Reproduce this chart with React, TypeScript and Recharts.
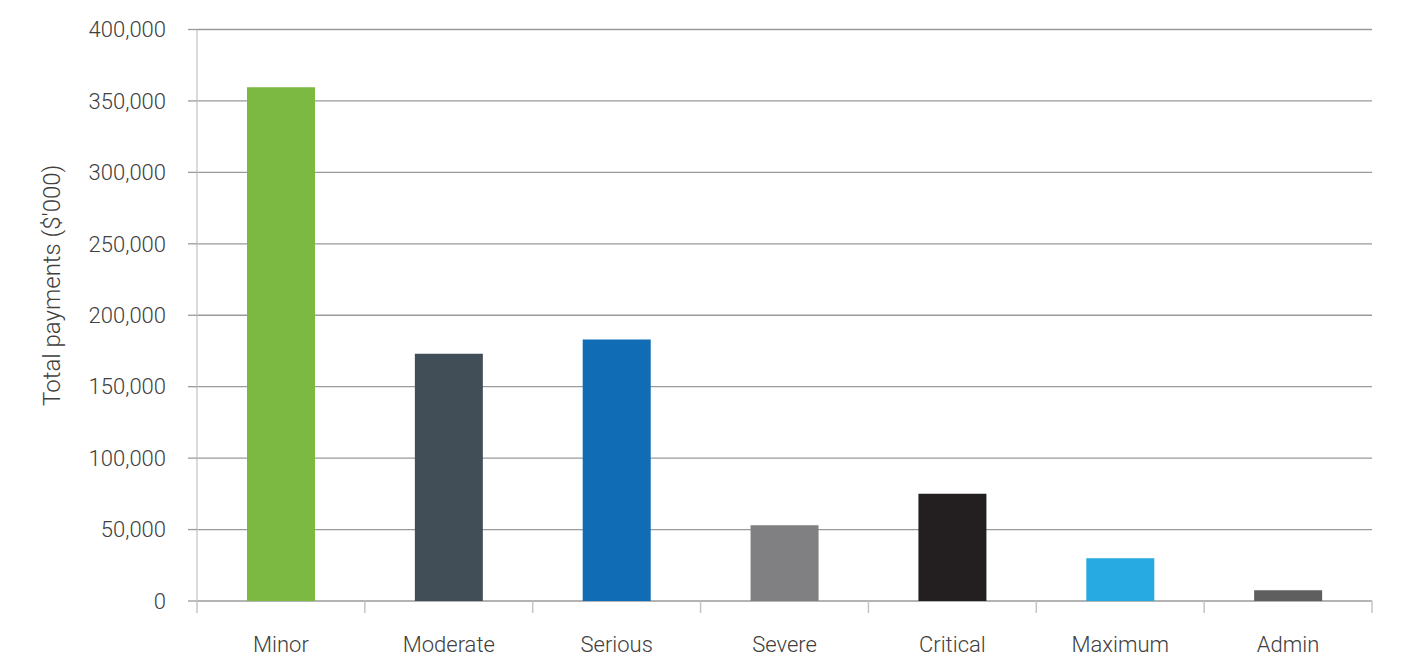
import { BarChart, Bar, XAxis, YAxis, CartesianGrid, Cell } from 'recharts'

const categories = ['Minor', 'Moderate', 'Serious', 'Severe', 'Critical', 'Maximum', 'Admin']
const payments = [359500, 173000, 183000, 53000, 75000, 30000, 7500]
const barColors = ['#7cb942', '#414e58', '#0f6cb5', '#808083', '#231f20', '#27aae1', '#5f5f5f']
const yTicks = [0, 50000, 100000, 150000, 200000, 250000, 300000, 350000, 400000]

const data = categories.map((name, i) => ({ name, value: payments[i] }))

const font = { fontFamily: 'Roboto, sans-serif', fontWeight: 300, fontSize: 22, fill: '#404040' }
const LABEL_GAP = 35

// category label plus the small separator ticks between categories
function CategoryTick(props: any) {
  const { x, y, payload, width, visibleTicksCount, index } = props
  const band = (width || 1175) / (visibleTicksCount || categories.length)
  const top = y - LABEL_GAP
  const tick = (tx: number) => (
    <line x1={tx} x2={tx} y1={top} y2={top + 12} stroke="#c4c4c4" strokeWidth={1.5} />
  )
  return (
    <g>
      {tick(x - band / 2)}
      {index === visibleTicksCount - 1 && tick(x + band / 2)}
      <text x={x} y={y} dy="0.71em" textAnchor="middle" {...font}>{payload.value}</text>
    </g>
  )
}

export default function App() {
  return (
    <div style={{ position: 'absolute', left: 0, top: 0, background: '#fff' }}>
      <BarChart width={1401} height={659} data={data}
        margin={{ top: 29.5, right: 29, bottom: 0, left: 0 }}>
        <CartesianGrid horizontal vertical={false} stroke="#9a9a9a" strokeWidth={1.3} />
        <XAxis dataKey="name" height={58} axisLine={false} tickLine={false}
          tickSize={0} tickMargin={LABEL_GAP} tick={<CategoryTick />} interval={0} />
        <YAxis width={197} domain={[0, 400000]} ticks={yTicks} interval={0}
          axisLine={{ stroke: '#cccccc', strokeWidth: 1.5 }}
          tickLine={{ stroke: '#9a9a9a', strokeWidth: 1.3 }} tickSize={9} tickMargin={22}
          tick={font} tickFormatter={(v: number) => v.toLocaleString('en-US')}
          label={{ value: "Total payments ($'000)", angle: -90, position: 'center',
            dx: -47, dy: -30, style: { ...font, fontSize: 24 } }} />
        <Bar dataKey="value" barSize={68} isAnimationActive={false}>
          {data.map((d, i) => <Cell key={d.name} fill={barColors[i]} />)}
        </Bar>
      </BarChart>
    </div>
  )
}
